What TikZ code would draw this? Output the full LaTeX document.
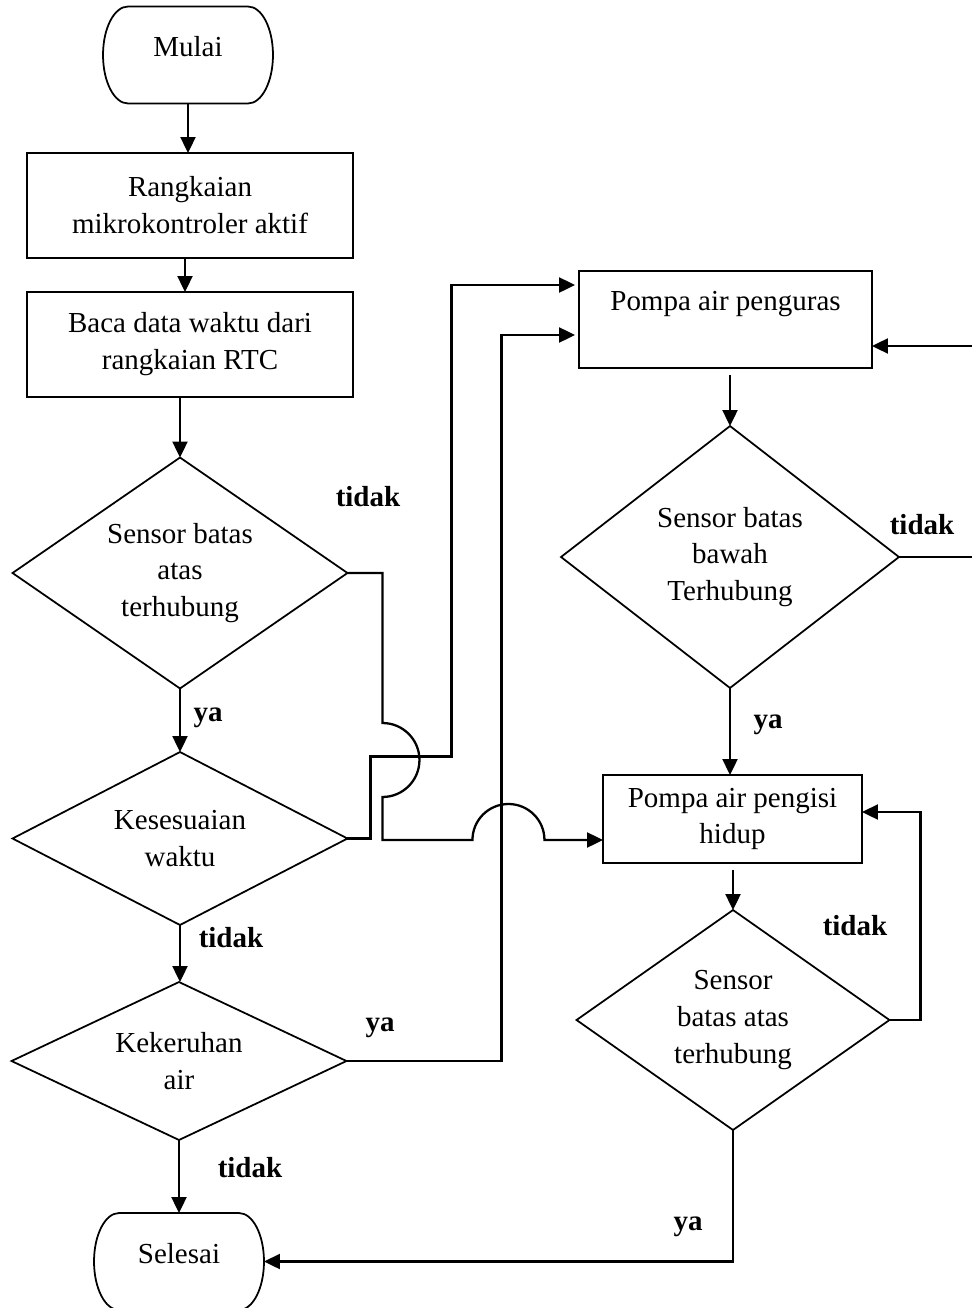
\documentclass[tikz,border=0pt]{standalone}
\usepackage{fontspec}
\setmainfont{Liberation Serif}
\usetikzlibrary{arrows.meta, calc, positioning, shapes.geometric}

\tikzset{
  proses/.style={rectangle, draw, line width=1.2pt, align=center, inner sep=0pt, outer sep=0pt},
  keputusan/.style={diamond, draw, line width=1pt, align=center, inner sep=0pt, outer sep=0pt},
  terminal/.style={rectangle, inner sep=0pt, outer sep=0pt, minimum width=3.4cm, minimum height=1.94cm, text depth=0.34cm},
  ket/.style={font=\fontsize{16.5}{21}\selectfont\bfseries},
  alur/.style={->, line width=1.3pt}
}

\begin{document}
\begin{tikzpicture}[x=0.02cm, y=-0.02cm, >={Triangle[length=3.2mm, width=3mm]}, font=\fontsize{16.5}{21}\selectfont]
                \useasboundingbox (0,0) rectangle (971,1308);

                % Left column
                \node[terminal] (mulai) at (188,55) {Mulai};
                \node[proses, minimum width=6.52cm, minimum height=2.1cm] (rangkaian) at (190,205.5) {Rangkaian\\mikrokontroler aktif};
                \node[proses, minimum width=6.52cm, minimum height=2.1cm] (baca) at (190,344.5) {Baca data waktu dari\\rangkaian RTC};
                \node[keputusan, minimum width=6.7cm, minimum height=4.62cm, aspect=1.45] (atas1) at (180,573) {Sensor batas\\atas\\terhubung};
                \node[keputusan, minimum width=6.7cm, minimum height=3.46cm, aspect=1.94] (waktu) at (180,838.5) {Kesesuaian\\waktu};
                \node[keputusan, minimum width=6.7cm, minimum height=3.16cm, aspect=2.12] (keruh) at (179,1061) {Kekeruhan\\air};
                \node[terminal] (selesai) at (179,1261.5) {Selesai};

                % Right column
                \node[proses, minimum width=5.86cm, minimum height=1.94cm] (kuras) at (725.5,319.5) {Pompa air penguras\\\mbox{}};
                \node[keputusan, minimum width=6.76cm, minimum height=5.24cm, aspect=1.29] (bawah) at (730,557) {Sensor batas\\bawah\\Terhubung};
                \node[proses, minimum width=5.18cm, minimum height=1.76cm] (isi) at (732.5,819) {Pompa air pengisi\\hidup};
                \node[keputusan, minimum width=6.26cm, minimum height=4.4cm, aspect=1.42] (atas2) at (733,1020) {Sensor\\batas atas\\terhubung};

                % Terminal outlines
                \foreach \t in {mulai, selesai}
                    \draw[line width=1pt] ([xshift=0.5cm]\t.north west) -- ([xshift=-0.5cm]\t.north east)
                        arc[start angle=90, end angle=-90, x radius=0.5cm, y radius=0.97cm]
                        -- ([xshift=0.5cm]\t.south west)
                        arc[start angle=270, end angle=90, x radius=0.5cm, y radius=0.97cm] -- cycle;

                % Main flow
                \draw[alur] (mulai.south) -- (mulai.south |- rangkaian.north);
                \draw[alur] ([xshift=-0.1cm]rangkaian.south) -- ([xshift=-0.1cm]baca.north);
                \draw[alur] (baca.south -| atas1.north) -- (atas1.north);
                \draw[alur] (atas1.south) -- (waktu.north);
                \draw[alur] (waktu.south) -- (waktu.south |- keruh.north);
                \draw[alur] (keruh.south) -- (selesai.north);

                % Branches with line hops
                \draw[alur] (atas1.east) -- ++(35,0) -- ++(0,150)
                    arc[start angle=90, end angle=-90, radius=0.74cm] -- ++(0,43) -- ++(90,0)
                    arc[start angle=180, end angle=0, radius=0.72cm] -- ([yshift=-0.42cm]isi.west);
                \draw[alur, shorten >=0.08cm] (waktu.east) -- ++(23,0) -- ++(0,-82) -- ++(81,0) |- ([yshift=0.69cm]kuras.west);
                \draw[alur, shorten >=0.08cm] (keruh.east) -- ++(155,0) |- ([yshift=-0.31cm]kuras.west);

                % Right flow
                \draw[alur, shorten <=0.14cm] (kuras.south -| bawah.north) -- (bawah.north);
                \draw[alur] (bawah.east) -- ++(90,0) |- ([yshift=-0.53cm]kuras.east);
                \draw[alur] (bawah.south) -- (bawah.south |- isi.north);
                \draw[alur, shorten <=0.14cm] (isi.south -| atas2.north) -- (atas2.north);
                \draw[alur] (atas2.east) -- ++(31,0) |- ([yshift=0.14cm]isi.east);
                \draw[alur] (atas2.south) |- (selesai.east);

                % Labels
                \node[ket] (t1) at (368,497) {tidak};
                \node[ket] (y1) at (208,718) {ya};
                \node[ket] (t2) at (231,938) {tidak};
                \node[ket] (y2) at (380,1028) {ya};
                \node[ket] (t3) at (250,1168) {tidak};
                \node[ket] (t4) at (922,525) {tidak};
                \node[ket] (y3) at (768,725) {ya};
                \node[ket] (t5) at (855,926) {tidak};
                \node[ket] (y4) at (688,1227) {ya};
            \end{tikzpicture}
\end{document}
